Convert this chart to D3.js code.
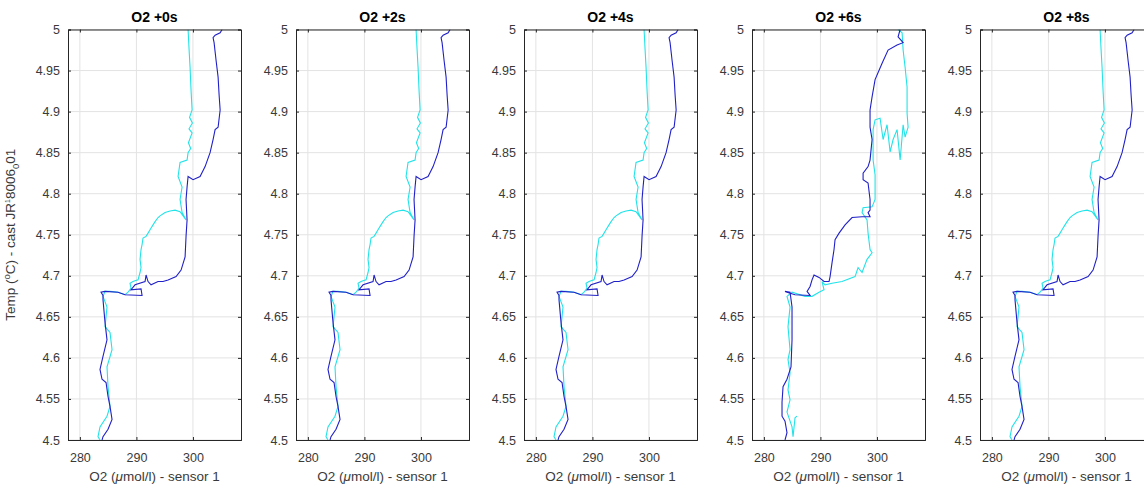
<!DOCTYPE html>
<html>
<head>
<meta charset="utf-8">
<script src="https://cdn.jsdelivr.net/npm/d3@7"></script>
<style>
  body { margin: 0; background: #fff; }
  svg { font-family: "Liberation Sans", Arial, Helvetica, sans-serif; }
</style>
</head>
<body>
<svg id="chart" width="1144" height="488"></svg>
<script>
// panel titles (lag applied to the O2 sensor)
var panelTitles = ["O2 +0s", "O2 +2s", "O2 +4s", "O2 +6s", "O2 +8s"];

var xTicks = [280, 290, 300];
var xTickLabels = ["280", "290", "300"];
var yTicks = [4.5, 4.55, 4.6, 4.65, 4.7, 4.75, 4.8, 4.85, 4.9, 4.95, 5];
var yTickLabels = ["4.5", "4.55", "4.6", "4.65", "4.7", "4.75", "4.8", "4.85", "4.9", "4.95", "5"];

// [O2, temp] pairs - down cast (dark blue), same in +0/+2/+4/+8
var downCast = [
  [305.16,5.000],[304.81,4.996],[303.92,4.993],[303.56,4.990],[303.74,4.984],[304.10,4.962],
  [304.45,4.942],[304.63,4.920],[304.81,4.902],[304.45,4.881],[303.92,4.878],[303.56,4.866],
  [303.03,4.850],[302.15,4.833],[301.26,4.821],[300.02,4.817],[299.14,4.821],[298.96,4.808],
  [298.78,4.793],[298.96,4.768],[298.78,4.748],[298.61,4.723],[297.90,4.707],[297.02,4.699],
  [295.60,4.695],[294.71,4.693],[293.83,4.693],[292.59,4.689],[292.06,4.693],[291.71,4.701],
  [291.53,4.693],[289.76,4.689],[289.05,4.683],[290.82,4.684],[291.00,4.676],[288.00,4.677],
  [286.75,4.680],[284.45,4.681],[283.74,4.680],[284.09,4.676],[284.09,4.671],[284.45,4.643],
  [284.80,4.622],[284.09,4.602],[283.56,4.586],[283.92,4.574],[284.63,4.570],[284.98,4.553],
  [285.33,4.541],[285.69,4.525],[284.98,4.513],[284.09,4.504],[283.92,4.500]
];
// up cast (cyan), same in +0/+2/+4/+8
var upCast = [
  [299.14,5.000],[299.32,4.975],[299.49,4.954],[299.67,4.925],[299.85,4.902],[299.40,4.893],
  [299.90,4.886],[299.30,4.879],[299.85,4.874],[299.20,4.862],[299.60,4.855],[299.14,4.850],
  [298.96,4.841],[297.72,4.838],[297.37,4.821],[298.08,4.808],
  [297.72,4.793],[298.08,4.777],[298.78,4.768],[297.72,4.778],[296.84,4.780],[295.95,4.779],
  [295.07,4.777],[294.18,4.773],[293.83,4.771],[293.30,4.766],[292.94,4.762],[292.41,4.756],
  [292.06,4.752],[291.71,4.748],[291.17,4.746],[291.00,4.738],[290.82,4.732],[290.64,4.720],
  [290.82,4.710],[290.64,4.704],[290.29,4.695],[289.76,4.694],[289.40,4.693],[288.87,4.691],
  [289.05,4.685],[288.52,4.680],[287.99,4.677],[286.75,4.680],[285.33,4.681],[284.45,4.681],
  [284.09,4.675],[284.80,4.662],[284.45,4.638],[285.33,4.631],[285.69,4.610],[284.80,4.589],
  [284.98,4.565],[285.33,4.541],[284.80,4.529],[283.56,4.516],[283.21,4.504],[283.56,4.500]
];
// +6s panel looks different
var downCast6 = [
  [304.10,5.000],[303.74,4.991],[304.63,4.984],[303.56,4.981],[301.97,4.975],[300.91,4.959],
  [299.67,4.939],[299.14,4.918],[298.78,4.902],[298.78,4.881],[299.14,4.866],[298.78,4.841],
  [298.43,4.833],[297.55,4.825],[297.55,4.817],[298.43,4.813],[298.78,4.793],[298.78,4.780],
  [298.43,4.777],[298.78,4.772],[297.37,4.772],[295.60,4.771],[294.36,4.762],[293.30,4.752],
  [292.59,4.744],[292.41,4.732],[292.06,4.716],[291.71,4.699],[291.53,4.693],[290.64,4.693],
  [289.76,4.698],[288.87,4.701],[288.52,4.695],[288.17,4.687],[287.64,4.681],[288.17,4.676],
  [285.51,4.677],[284.09,4.680],[283.74,4.681],[284.63,4.680],[284.98,4.662],[284.98,4.622],
  [284.80,4.589],[284.09,4.574],[283.39,4.565],[283.21,4.546],[283.21,4.529],[283.74,4.523],
  [284.09,4.509],[283.74,4.500]
];
var upCast6 = [
  [303.74,5.000],[304.45,4.996],[304.63,4.975],[304.98,4.954],[305.33,4.930],[305.33,4.898],
  [305.51,4.881],[304.98,4.869],[304.63,4.884],[304.10,4.841],[303.56,4.878],[302.86,4.866],
  [302.33,4.851],[301.79,4.884],[301.09,4.866],[300.55,4.892],[299.67,4.890],[299.32,4.878],
  [299.32,4.841],[299.67,4.823],[299.67,4.793],[299.14,4.784],[297.55,4.783],[297.37,4.777],
  [298.25,4.768],[298.43,4.752],[298.78,4.732],[299.14,4.728],[298.25,4.720],[297.37,4.704],
  [296.66,4.710],[296.13,4.699],[293.83,4.693],[292.06,4.691],[290.82,4.689],[290.29,4.693],
  [290.64,4.683],[289.76,4.680],[288.52,4.675],[287.28,4.675],[284.98,4.680],[284.09,4.675],
  [284.63,4.662],[284.27,4.638],[284.63,4.610],[284.27,4.598],[284.63,4.582],[284.27,4.561],
  [284.63,4.549],[284.09,4.534],[284.98,4.516],[285.16,4.504],[285.51,4.527],[285.86,4.529]
];

var panelDown = [downCast, downCast, downCast, downCast6, downCast];
var panelUp = [upCast, upCast, upCast, upCast6, upCast];

var svg = d3.select("#chart");

var plotW = 173, plotH = 410.5, plotTop = 29.5;
var firstLeft = 68, step = 228;
var axisColor = "#262626";

var x = d3.scaleLinear().domain([277.9, 308.5]).range([0, plotW]);
var y = d3.scaleLinear().domain([4.5, 5]).range([plotH, 0]);

var line = d3.line()
  .x(function(d) { return x(d[0]); })
  .y(function(d) { return y(d[1]); });

panelTitles.forEach(function(title, i) {
  var g = svg.append("g")
    .attr("transform", "translate(" + (firstLeft + i * step) + "," + plotTop + ")");

  // grid
  g.selectAll(".gx").data(xTicks).enter().append("line")
    .attr("x1", function(d) { return x(d); }).attr("x2", function(d) { return x(d); })
    .attr("y1", 0).attr("y2", plotH)
    .attr("stroke", "#e3e3e3").attr("stroke-width", 1);
  g.selectAll(".gy").data(yTicks).enter().append("line")
    .attr("x1", 0).attr("x2", plotW)
    .attr("y1", function(d) { return y(d); }).attr("y2", function(d) { return y(d); })
    .attr("stroke", "#e3e3e3").attr("stroke-width", 1);

  var clipId = "clip" + i;
  g.append("clipPath").attr("id", clipId)
    .append("rect").attr("width", plotW).attr("height", plotH);

  var lines = g.append("g").attr("clip-path", "url(#" + clipId + ")");
  lines.append("path").datum(panelUp[i])
    .attr("d", line).attr("fill", "none")
    .attr("stroke", "#22e3e8").attr("stroke-width", 1.1);
  lines.append("path").datum(panelDown[i])
    .attr("d", line).attr("fill", "none")
    .attr("stroke", "#2020c8").attr("stroke-width", 1.1);

  // axes - inward ticks on every side like matlab box on
  var tick = -3;
  var ax = g.append("g").attr("transform", "translate(0," + plotH + ")")
    .call(d3.axisBottom(x).tickValues(xTicks).tickSize(tick).tickPadding(13)
      .tickFormat(function(d, k) { return xTickLabels[k]; }));
  var axTop = g.append("g")
    .call(d3.axisTop(x).tickValues(xTicks).tickSize(tick).tickFormat(""));
  var ay = g.append("g")
    .call(d3.axisLeft(y).tickValues(yTicks).tickSize(tick).tickPadding(8)
      .tickFormat(function(d, k) { return yTickLabels[k]; }));
  var ayR = g.append("g").attr("transform", "translate(" + plotW + ",0)")
    .call(d3.axisRight(y).tickValues(yTicks).tickSize(tick).tickFormat(""));

  [ax, axTop, ay, ayR].forEach(function(a) {
    a.selectAll("path.domain").attr("stroke", axisColor).attr("stroke-width", 1);
    a.selectAll(".tick line").attr("stroke", axisColor);
    a.selectAll(".tick text").attr("fill", "#3a3a3a").style("font-size", "12.5px")
      .style("font-family", "'Liberation Sans', Arial, sans-serif");
  });

  g.append("text")
    .attr("x", plotW / 2).attr("y", -7.5)
    .attr("text-anchor", "middle")
    .style("font-size", "14px").style("font-weight", "bold")
    .attr("fill", "#000")
    .text(title);

  var xl = g.append("text")
    .attr("x", plotW / 2).attr("y", plotH + 41)
    .attr("text-anchor", "middle")
    .style("font-size", "13.5px").attr("fill", "#3a3a3a");
  xl.append("tspan").text("O2 (");
  xl.append("tspan").style("font-style", "italic").text("\u03bc");
  xl.append("tspan").text("mol/l) - sensor 1");
});

// y label only on the first panel
var yl = svg.append("text")
  .attr("transform", "translate(15," + (plotTop + plotH / 2) + ") rotate(-90)")
  .attr("text-anchor", "middle")
  .style("font-size", "13.5px").attr("fill", "#3a3a3a");
yl.append("tspan").text("Temp (");
yl.append("tspan").attr("dy", -5).style("font-size", "9.5px").text("o");
yl.append("tspan").attr("dy", 5).text("C) - cast JR");
yl.append("tspan").attr("dy", -5).style("font-size", "7px").text("1");
yl.append("tspan").attr("dy", 5).text("8006");
yl.append("tspan").attr("dy", 3.5).style("font-size", "9.5px").text("0");
yl.append("tspan").attr("dy", -3.5).text("01");
</script>
</body>
</html>
